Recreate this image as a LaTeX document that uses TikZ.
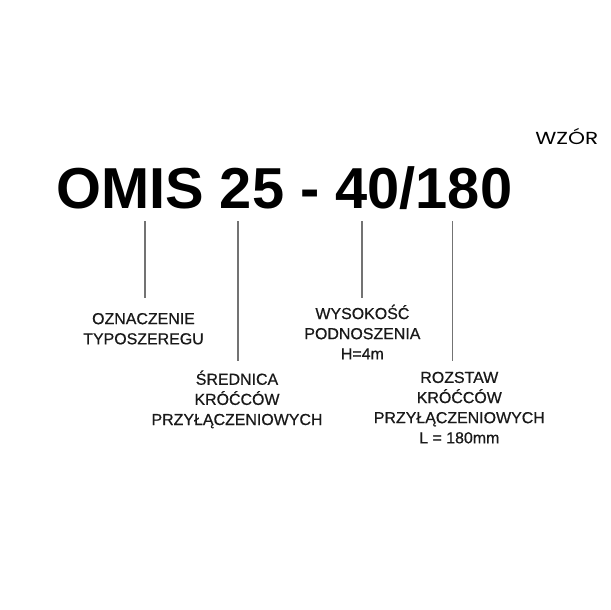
\documentclass[tikz,border=0pt]{standalone}
\usepackage{fontspec}
\setmainfont{Liberation Sans}
\newfontfamily\wzorfont{Poppins}
\newfontfamily\lblfont{Liberation Sans}[FakeBold=0.6]
\begin{document}
\begin{tikzpicture}[x=1bp,y=-1bp,
  lbl/.style={font=\lblfont\fontsize{16}{20.2}\selectfont, text=black!90, align=center, inner sep=0pt, anchor=base},
  conn/.style={draw=black!55, line width=1.8bp}]
\useasboundingbox[fill=white] (0,0) rectangle (610,610);
\node[anchor=base west, inner sep=0pt, font=\fontsize{58}{58}\selectfont\bfseries] (title) at (56,208) {OMIS 25 - 40/180};
\node[anchor=base west, inner sep=0pt, xscale=1.24, font=\wzorfont\fontsize{17.5}{17.5}\selectfont] (wzor) at (535,145) {WZÓR};
\node[lbl] (l1) at (143.5,344.3) {OZNACZENIE\\TYPOSZEREGU};
\node[lbl] (l2) at (237,425) {ŚREDNICA\\KRÓĆCÓW\\PRZYŁĄCZENIOWYCH};
\node[lbl] (l3) at (362.4,359.3) {WYSOKOŚĆ\\PODNOSZENIA\\H=4m};
\node[lbl] (l4) at (459.3,443.3) {ROZSTAW\\KRÓĆCÓW\\PRZYŁĄCZENIOWYCH\\L = 180mm};
\coordinate (t1) at (145,221);
\coordinate (t2) at (237.7,221);
\coordinate (t3) at (361.7,221);
\coordinate (t4) at (452.5,221);
\coordinate (b1) at (145,298);
\coordinate (b2) at (237.7,360.7);
\coordinate (b3) at (361.7,298);
\coordinate (b4) at (452.5,360.7);
\draw[conn] (t1) -- (b1);
\draw[conn] (t2) -- (b2);
\draw[conn] (t3) -- (b3);
\draw[conn] (t4) -- (b4);
\end{tikzpicture}
\end{document}
